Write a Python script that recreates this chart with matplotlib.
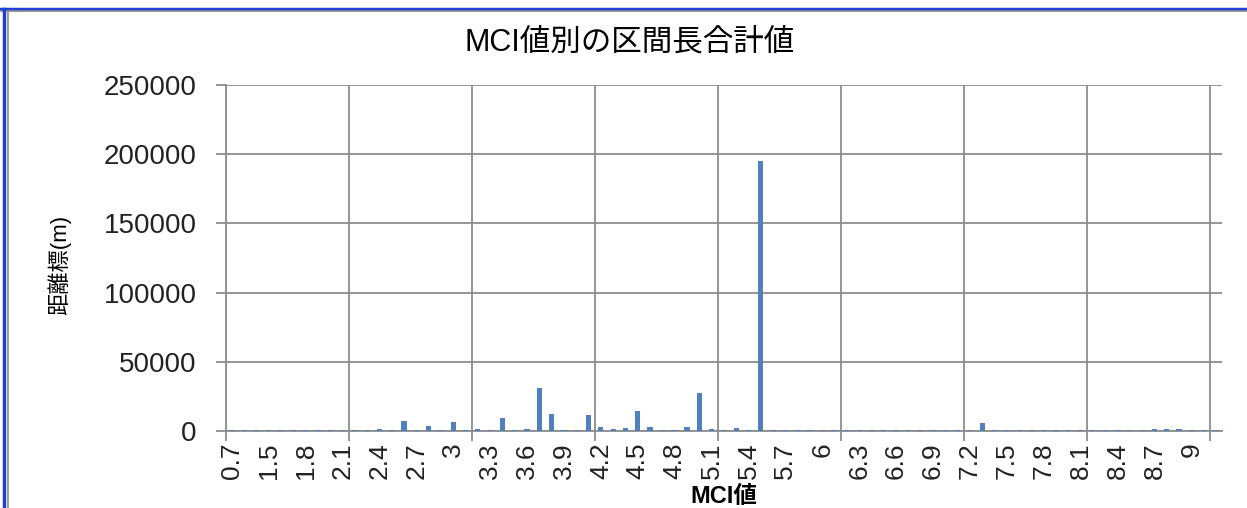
import numpy as np
import matplotlib.pyplot as plt
from matplotlib.lines import Line2D
from matplotlib.ticker import FixedLocator

plt.rcParams['font.family'] = ['Liberation Sans', 'Noto Sans CJK JP', 'DejaVu Sans']

# MCI categories (labels shown every 3rd category)
mci = ["0.7", "1.1", "1.4",
       "1.5", "1.6", "1.7", "1.8", "1.9", "2", "2.1", "2.2", "2.3", "2.4",
       "2.5", "2.6", "2.7", "2.8", "2.9", "3", "3.1", "3.2", "3.3", "3.4",
       "3.5", "3.6", "3.7", "3.8", "3.9", "4", "4.1", "4.2", "4.3", "4.4",
       "4.5", "4.6", "4.7", "4.8", "4.9", "5", "5.1", "5.2", "5.3", "5.4",
       "5.5", "5.6", "5.7", "5.8", "5.9", "6", "6.1", "6.2", "6.3", "6.4",
       "6.5", "6.6", "6.7", "6.8", "6.9", "7", "7.1", "7.2", "7.3", "7.4",
       "7.5", "7.6", "7.7", "7.8", "7.9", "8", "8.1", "8.2", "8.3", "8.4",
       "8.5", "8.6", "8.7", "8.8", "8.9", "9", "9.1", "9.2"]

# total section length (m) per MCI value
length = [800, 800, 800, 800, 800, 800, 800, 800, 800, 800,
          700, 700, 1500, 700, 7200, 700, 3600, 700, 6500, 700,
          1400, 700, 9200, 700, 1400, 31400, 12100, 700, 700, 11600,
          2900, 1400, 2200, 14500, 2900, 700, 700, 2900, 27300, 1400,
          700, 2200, 700, 195000, 700, 700, 700, 700, 700, 700,
          700, 700, 700, 700, 700, 700, 700, 700, 700, 700,
          700, 6000, 700, 700, 700, 700, 700, 700, 700, 700,
          700, 700, 700, 700, 700, 1300, 1300, 1300, 700, 700,
          700]

fig = plt.figure(figsize=(12.47, 5.08), dpi=100)
ax = fig.add_axes([0.181, 0.1516, 0.799, 0.6811])

x = np.arange(len(mci))
ax.bar(x, length, width=0.42, color="#4F81BD", zorder=3)

ax.set_xlim(-0.5, len(mci) - 0.5)
ax.set_ylim(0, 250000)
ax.set_yticks([0, 50000, 100000, 150000, 200000, 250000])
ax.set_yticklabels(["0", "50000", "100000", "150000", "200000", "250000"], fontsize=20, color="#222222")

ax.set_xticks(x[::3])
ax.set_xticklabels(mci[::3], rotation=90, fontsize=19, color="#222222")
ax.tick_params(axis="x", which="major", length=0, pad=8)
ax.xaxis.set_minor_locator(FixedLocator(np.arange(-0.5, len(mci), 10)))
ax.tick_params(axis="x", which="minor", length=7, color="#8c8c8c", width=1.3)
ax.tick_params(axis="y", length=7, color="#8c8c8c", width=1.3, pad=14)

ax.grid(axis="y", color="#8c8c8c", linewidth=1.3, zorder=0)
ax.grid(axis="x", which="minor", color="#8c8c8c", linewidth=1.3, zorder=0)
for s in ["top", "right"]:
    ax.spines[s].set_visible(False)
for s in ["left", "bottom"]:
    ax.spines[s].set_color("#8c8c8c")
    ax.spines[s].set_linewidth(1.3)

ax.set_xlabel("MCI値", fontsize=17, fontweight="bold")
ax.xaxis.set_label_coords(0.5, -0.188)
ax.xaxis.label.set_va("center")
ax.set_ylabel("距離標(m)", fontsize=16)
ax.yaxis.set_label_coords(-0.1667, 0.48)
ax.yaxis.label.set_va("center")
fig.text(0.505, 0.917, "MCI値別の区間長合計値", ha="center", va="center", fontsize=22)

# window frame
fig.add_artist(Line2D([0, 1], [0.983, 0.983], color="#1f3fd8", linewidth=2.5, transform=fig.transFigure))
fig.add_artist(Line2D([0, 1], [0.978, 0.978], color="#8c8c8c", linewidth=1.2, transform=fig.transFigure))
fig.add_artist(Line2D([0.0035, 0.0035], [0, 0.983], color="#1f3fd8", linewidth=2.5, transform=fig.transFigure))
fig.add_artist(Line2D([0.0065, 0.0065], [0, 0.978], color="#8c8c8c", linewidth=1.2, transform=fig.transFigure))

fig.savefig("out.png", dpi=100)
